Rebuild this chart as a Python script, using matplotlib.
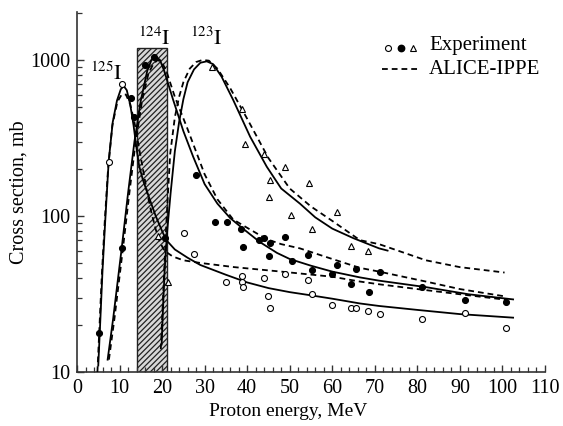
import matplotlib
matplotlib.use("Agg")
import matplotlib.pyplot as plt
from matplotlib.ticker import FixedLocator, NullFormatter, FixedFormatter

plt.rcParams['font.family'] = ['Liberation Serif', 'DejaVu Serif']
plt.rcParams['mathtext.fontset'] = 'stix'
plt.rcParams['hatch.linewidth'] = 0.9

# ---- experimental points ----
open_e = [7.45, 10.6, 25.1, 27.6, 35.0, 38.7, 38.7, 39.1, 43.9, 45.0, 45.4, 48.9, 54.4, 55.2,
          59.9, 64.3, 65.5, 68.5, 71.2, 81.2, 91.2, 100.8]
open_s = [223, 698, 78, 57, 37.6, 41, 38, 34.9, 40, 30.7, 25.6, 42.3, 38.9, 31.6,
          26.8, 25.8, 25.8, 24.7, 23.5, 21.9, 23.8, 19.1]

fill_e = [5.2, 10.5, 12.7, 13.3, 16.1, 18.2, 20.8, 28.0, 32.4, 35.2, 38.5, 39.1, 42.8, 43.9,
          45.1, 45.4, 49.0, 50.5, 54.4, 55.2, 59.9, 61.0, 64.3, 65.5, 68.6, 71.2, 81.0, 91.2, 100.8]
fill_s = [17.7, 62, 570, 430, 930, 1050, 72, 183, 91, 91, 82, 63, 70, 72,
          55.5, 67, 73, 51.7, 56, 45, 42.5, 48.5, 36.6, 45.5, 32.4, 44, 34.9, 29, 28]

tri_e = [19.1, 21.5, 31.7, 38.8, 39.6, 44.0, 49.0, 45.4, 54.5, 45.1, 50.3, 61.1, 55.3, 64.3, 68.5]
tri_s = [74.5, 38, 906, 485, 290, 250, 207, 170, 163, 133, 101, 106, 83, 64, 60]

# ---- fitted curves (solid) and ALICE-IPPE (dashed) ----
i125_e = [5.0, 5.5, 6.0, 6.7, 7.45, 8.4, 9.4, 10.3, 11.0, 11.7, 12.5, 13.3, 14.0, 14.6, 15.5, 17, 18.5,
          20, 21, 23, 26, 29, 35, 40, 45, 50, 55, 60, 66.5, 71, 80, 90, 102.5]
i125_s = [11, 22, 45, 100, 225, 400, 550, 650, 680, 640, 520, 380, 270, 210, 170, 130, 100,
          80, 70, 61, 54, 48.5, 42, 37.5, 34.5, 32.5, 31, 29.5, 27.5, 26.5, 25, 23.5, 22.3]
i125_de = [4.8, 5.3, 5.8, 6.5, 7.3, 8.3, 9.5, 10.5, 11.5, 12.5, 13.5, 14.5, 15.5, 16.5, 17.5, 18.5,
           19.5, 20.5, 22.5, 25, 29, 37, 48, 60, 66.5, 71, 80, 90, 101]
i125_ds = [10, 20, 40, 90, 200, 380, 540, 600, 600, 520, 400, 280, 200, 140, 105, 82,
           68, 60, 55, 52, 50, 47, 44, 40.8, 38, 36.5, 34, 31.5, 29]

i124_e = [7.2, 8.5, 10.5, 12, 13.5, 15, 16.5, 17.5, 18.5, 19.5, 20.5, 22.6, 25, 27.3, 30, 33, 36,
          39, 43, 47, 50, 55, 60, 66.5, 71, 82, 92, 102.5]
i124_s = [12, 22, 62, 140, 300, 550, 850, 1000, 1050, 1000, 850, 555, 350, 240, 160, 120, 97,
          83, 68, 58, 53, 48, 44, 40.4, 38.5, 35, 31.5, 29.2]
i124_de = [7.5, 8.8, 10.8, 12.3, 13.8, 15.3, 16.8, 18, 19, 20, 21, 23, 26, 30, 33, 36.7, 40, 44.6,
           48, 52.4, 60, 66.5, 71, 82, 90, 101]
i124_ds = [12, 22, 62, 140, 300, 550, 820, 950, 1000, 960, 850, 580, 360, 185, 128, 95, 84, 71,
           66, 62, 53, 46.5, 44, 38, 34, 30.4]

i123_e = [19.9, 20.2, 20.6, 21.2, 22, 23, 24, 25, 26, 27.5, 29, 30.5, 32, 34, 36.7, 40.7, 44.6, 48,
          52.4, 56, 60, 65, 71, 73]
i123_s = [15, 25, 45, 80, 140, 260, 400, 560, 720, 870, 960, 980, 940, 780, 555, 322, 207, 150,
          120, 98, 83, 72, 62, 60]
i123_de = [19.7, 20.1, 20.5, 21, 21.9, 23, 24, 25, 26.5, 28, 29.5, 31, 33, 36, 40, 45, 50, 55, 60,
           66.5, 71, 82, 90, 100.5]
i123_ds = [14, 25, 45, 90, 250, 430, 580, 720, 880, 970, 1000, 990, 880, 660, 420, 235, 150, 115,
           93, 70, 66, 52, 47, 43.4]

band_lo, band_hi, band_top = 14.1, 21.1, 1200

x_major = list(range(0, 111, 10))
y_major = [10, 100, 1000]
y_labels = ['10', '100', '1000']

fig = plt.figure(figsize=(5.63, 4.26), dpi=100)
ax = fig.add_axes([77/563, 54/426, 468/563, 360/426])

ax.bar(band_lo, band_top - 10, bottom=10, width=band_hi - band_lo, align='edge',
       facecolor='#d8d8d8', edgecolor='#222222', hatch='//////', linewidth=1.0, zorder=1)

lw = 1.3
dash = (0, (3.2, 2.2))
for e, s in [(i125_e, i125_s), (i124_e, i124_s), (i123_e, i123_s)]:
    ax.plot(e, s, color='black', lw=lw, zorder=3)
for e, s in [(i125_de, i125_ds), (i124_de, i124_ds), (i123_de, i123_ds)]:
    ax.plot(e, s, color='black', lw=lw, linestyle=dash, zorder=3)

ax.plot(open_e, open_s, linestyle='none', marker='o', ms=4.3, mfc='white', mec='black', mew=0.8, zorder=4)
ax.plot(fill_e, fill_s, linestyle='none', marker='o', ms=4.3, mfc='black', mec='black', mew=0.8, zorder=4)
ax.plot(tri_e, tri_s, linestyle='none', marker='^', ms=4.6, mfc='white', mec='black', mew=0.8, zorder=4)

ax.set_yscale('log')
ax.set_xlim(0, 110)
ax.set_ylim(10, 2030)
ax.xaxis.set_major_locator(FixedLocator(x_major))
ax.xaxis.set_minor_locator(FixedLocator(list(range(0, 111, 2))))
ax.yaxis.set_major_locator(FixedLocator(y_major))
ax.yaxis.set_major_formatter(FixedFormatter(y_labels))
ax.yaxis.set_minor_locator(FixedLocator([m * d for d in (10, 100, 1000) for m in range(2, 10) if m * d < 2030]))
ax.yaxis.set_minor_formatter(NullFormatter())

for sp in ('top', 'right'):
    ax.spines[sp].set_visible(False)
for sp in ('left', 'bottom'):
    ax.spines[sp].set_linewidth(1.2)
    ax.spines[sp].set_color('#333333')

ax.tick_params(which='major', direction='in', length=5, width=1.0, color='#333333', labelsize=14.5)
ax.tick_params(which='minor', direction='in', length=3.5, width=0.9, color='#333333')
ax.tick_params(axis='y', which='major', pad=5)
ax.tick_params(axis='x', which='major', pad=5)

ax.set_xlabel('Proton energy, MeV', fontsize=14)
ax.xaxis.set_label_coords(0.451, -0.085)
ax.set_ylabel('Cross section, mb', fontsize=14.5, labelpad=1)

ax.text(3.05, 745, r'$^{125}\mathrm{I}$', fontsize=15.5, ha='left', va='baseline')
ax.text(14.3, 1250, r'$^{124}\mathrm{I}$', fontsize=15.5, ha='left', va='baseline')
ax.text(26.6, 1250, r'$^{123}\mathrm{I}$', fontsize=15.5, ha='left', va='baseline')

# legend
T = ax.transAxes
ax.plot([0.665], [0.901], transform=T, marker='o', ms=4.3, mfc='white', mec='black', mew=0.8, clip_on=False)
ax.plot([0.692], [0.901], transform=T, marker='o', ms=4.6, mfc='black', mec='black', clip_on=False)
ax.plot([0.717], [0.901], transform=T, marker='^', ms=4.6, mfc='white', mec='black', mew=0.8, clip_on=False)
ax.text(0.752, 0.906, 'Experiment', transform=T, fontsize=15, ha='left', va='center')
ax.plot([0.651, 0.730], [0.841, 0.841], transform=T, color='black', lw=lw, linestyle=dash, clip_on=False)
ax.text(0.752, 0.841, 'ALICE-IPPE', transform=T, fontsize=15, ha='left', va='center')

fig.savefig('out.png', dpi=100)
